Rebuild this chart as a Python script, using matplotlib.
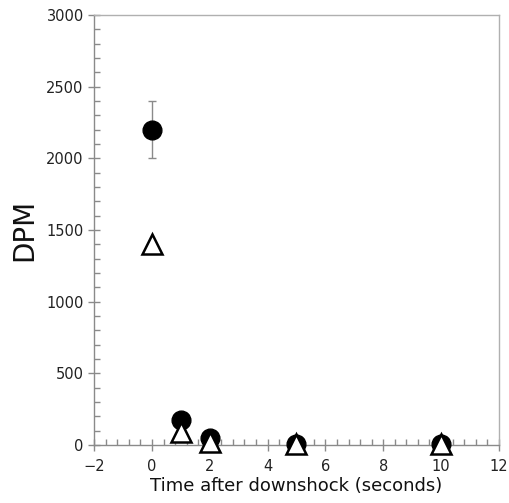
import matplotlib
matplotlib.use("Agg")
import matplotlib.pyplot as plt
from matplotlib.ticker import MultipleLocator

# data
time_s = [0, 1, 2, 5, 10]
dpm_circle = [2200, 175, 50, 10, 5]
dpm_circle_err = [200, 0, 0, 0, 0]
dpm_triangle = [1400, 90, 20, 5, 5]

fig = plt.figure(figsize=(5.09, 5.03), dpi=100)
ax = fig.add_axes([0.185, 0.1153, 0.795, 0.8549])

gray = "#8a8a8a"

ax.errorbar(time_s, dpm_circle, yerr=dpm_circle_err, fmt="none",
            ecolor=gray, elinewidth=1, capsize=3, capthick=1, zorder=2)
ax.plot(time_s, dpm_circle, "o", color="black", markersize=13.5,
        linestyle="none", zorder=3, clip_on=False)
ax.plot(time_s, dpm_triangle, "^", markerfacecolor="white",
        markeredgecolor="black", markeredgewidth=1.8, markersize=15,
        linestyle="none", zorder=4, clip_on=False)

ax.set_xlim(-2, 12)
ax.set_ylim(0, 3000)
ax.xaxis.set_major_locator(MultipleLocator(2))
ax.xaxis.set_minor_locator(MultipleLocator(0.4))
ax.yaxis.set_major_locator(MultipleLocator(500))
ax.yaxis.set_minor_locator(MultipleLocator(100))

for side in ["top", "right"]:
    ax.spines[side].set_color("#b0b0b0")
for side in ["left", "bottom"]:
    ax.spines[side].set_color(gray)
for s in ax.spines.values():
    s.set_linewidth(1)

ax.tick_params(which="major", direction="inout", length=8, width=1,
               color=gray, labelsize=10.5, labelcolor="#222222")
ax.tick_params(which="minor", direction="in", length=4, width=1, color=gray)
ax.tick_params(axis="x", pad=6)

ax.set_xlabel("Time after downshock (seconds)", fontsize=13, labelpad=2,
              color="#111111")
ax.set_ylabel("DPM", fontsize=20, labelpad=6, color="#111111")

fig.savefig("out.png", dpi=100)
